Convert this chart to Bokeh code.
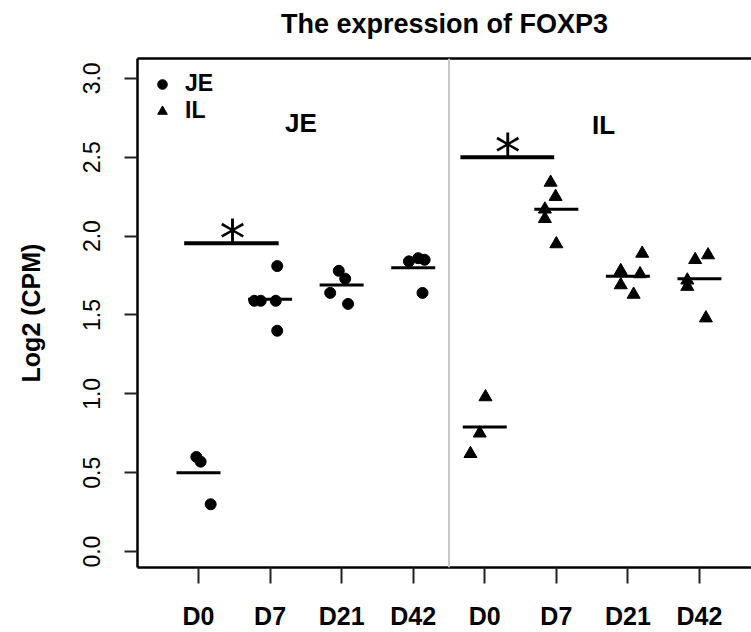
from bokeh.plotting import figure
from bokeh.models import (FixedTicker, LinearAxis, Span, Legend, LegendItem,
                          Range1d, NumeralTickFormatter)
from bokeh.core.properties import value
from bokeh.embed import file_html
from bokeh.resources import INLINE

# ---------------- data ----------------
title_text = "The expression of FOXP3"
y_label = "Log2 (CPM)"
groups = ["JE", "IL"]
days = ["D0", "D7", "D21", "D42"]
tick_positions = [1, 2, 3, 4, 5, 6, 7, 8]
tick_labels = days + days
y_ticks = [0.0, 0.5, 1.0, 1.5, 2.0, 2.5, 3.0]

# JE samples (jittered x position, log2 CPM)
je_x = [0.97, 1.03, 1.17,
        1.78, 1.87, 2.08, 2.10, 2.10,
        2.96, 3.05, 2.84, 3.09,
        3.94, 4.07, 4.16, 4.13]
je_y = [0.60, 0.57, 0.30,
        1.59, 1.59, 1.59, 1.81, 1.40,
        1.78, 1.73, 1.64, 1.57,
        1.84, 1.86, 1.85, 1.64]

# IL samples
il_x = [5.01, 4.93, 4.80,
        5.92, 5.99, 5.84, 5.84, 6.00,
        7.20, 6.90, 7.17, 6.90, 7.08,
        8.12, 7.94, 7.83, 7.83, 8.09]
il_y = [0.98, 0.75, 0.62,
        2.34, 2.25, 2.17, 2.11, 1.95,
        1.89, 1.78, 1.76, 1.69, 1.63,
        1.88, 1.85, 1.72, 1.68, 1.48]

# group means (horizontal bars)
je_mean = [0.50, 1.60, 1.69, 1.80]
il_mean = [0.79, 2.17, 1.745, 1.73]

# significance brackets
sig_x0 = [0.80, 4.66]
sig_x1 = [2.12, 5.97]
sig_y = [1.955, 2.50]
sig_star_x = [1.475, 5.32]
sig_text = ["*", "*"]

# panel labels
panel_label_x = [2.43, 6.66]
panel_label_y = [2.716, 2.703]
divider_x = 4.5

FONT = "Liberation Sans"

# ---------------- figure ----------------
p = figure(width=751, height=632, output_backend="svg", toolbar_location=None,
           x_range=Range1d(0.1477, 8.727), y_range=Range1d(-0.101, 3.126),
           min_border_left=137, min_border_right=0, min_border_top=58,
           min_border_bottom=63)
p.outline_line_color = None
p.xgrid.visible = False
p.ygrid.visible = False
p.background_fill_color = "white"
p.border_fill_color = "white"

# x axis
xa = p.xaxis[0]
xa.ticker = FixedTicker(ticks=tick_positions)
xa.major_label_overrides = {t: lab for t, lab in zip(tick_positions, tick_labels)}
xa.major_label_text_font = FONT
xa.major_label_text_font_style = "bold"
xa.major_label_text_font_size = "25px"
xa.major_label_text_color = "black"
xa.major_tick_out = 16
xa.major_tick_in = 0
xa.minor_tick_line_color = None
xa.axis_line_width = 2.5
xa.axis_line_color = "black"
xa.major_tick_line_width = 2
xa.major_tick_line_color = "#222222"
xa.major_label_standoff = 18

# y axis
ya = p.yaxis[0]
ya.ticker = FixedTicker(ticks=y_ticks)
ya.formatter = NumeralTickFormatter(format="0.0")
ya.major_label_orientation = "vertical"
ya.major_label_text_font = FONT
ya.major_label_text_font_size = "23px"
ya.major_label_text_color = "black"
ya.major_tick_out = 13
ya.major_tick_in = 0
ya.minor_tick_line_color = None
ya.axis_line_width = 2.5
ya.axis_line_color = "black"
ya.major_tick_line_width = 2
ya.major_tick_line_color = "#222222"
ya.major_label_standoff = 24
ya.axis_label = y_label
ya.axis_label_text_font = FONT
ya.axis_label_text_font_style = "bold"
ya.axis_label_text_font_size = "25px"
ya.axis_label_text_color = "black"
ya.axis_label_standoff = 36

# top border as an empty axis; its label carries the chart title
top_axis = LinearAxis(ticker=FixedTicker(ticks=[]), major_tick_line_color=None,
                      minor_tick_line_color=None, major_label_text_font_size="0px",
                      axis_line_width=2.5, axis_line_color="black",
                      major_label_standoff=0, major_tick_out=0, major_tick_in=0,
                      axis_label=title_text, axis_label_text_font=FONT,
                      axis_label_text_font_size="27px",
                      axis_label_text_font_style="bold",
                      axis_label_text_color="black", axis_label_standoff=20)
p.add_layout(top_axis, "above")

# divider
p.add_layout(Span(location=divider_x, dimension="height", line_color="#c8c8c8",
                  line_width=2))

# points
r_je = p.scatter(je_x, je_y, marker="circle", size=11, color="black")
r_il = p.scatter(il_x, il_y, marker="triangle", size=13, color="black")

# means
p.scatter(tick_positions, je_mean + il_mean, marker="dash", size=44,
          line_width=3, line_color="black")

# significance
p.segment(x0=sig_x0, y0=sig_y, x1=sig_x1, y1=sig_y, line_width=4, line_color="black")
p.text(x=sig_star_x, y=sig_y, text=sig_text, text_font=value("DejaVu Sans"),
       text_font_size="52px", text_align="center", text_baseline="alphabetic",
       y_offset=-4, text_color="black")

# panel labels
p.text(x=panel_label_x, y=panel_label_y, text=groups, text_font=value(FONT),
       text_font_style="bold", text_font_size="26px", text_align="center",
       text_baseline="middle", text_color="black")

legend = Legend(items=[LegendItem(label=groups[0], renderers=[r_je]),
                       LegendItem(label=groups[1], renderers=[r_il])],
                location="top_left", margin=12, padding=0, spacing=0,
                glyph_width=26, glyph_height=24, label_height=24,
                label_standoff=10, border_line_color=None,
                background_fill_alpha=0, label_text_font=FONT,
                label_text_font_style="bold", label_text_font_size="23px",
                label_text_color="black")
p.add_layout(legend)

open("out.html", "w").write(file_html(p, INLINE))
